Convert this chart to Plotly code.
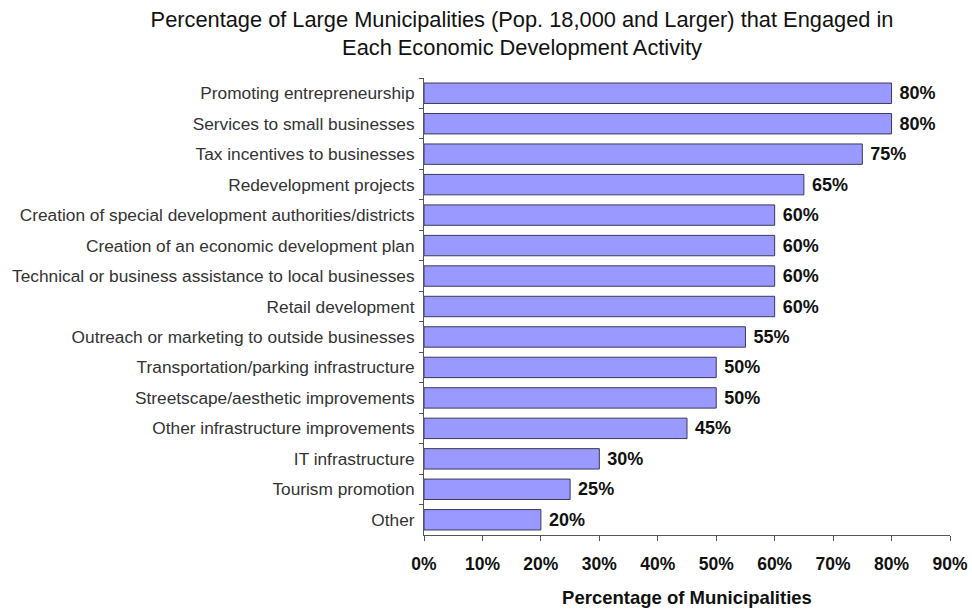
import plotly.graph_objects as go

activities = [
    "Promoting entrepreneurship",
    "Services to small businesses",
    "Tax incentives to businesses",
    "Redevelopment projects",
    "Creation of special development authorities/districts",
    "Creation of an economic development plan",
    "Technical or business assistance to local businesses",
    "Retail development",
    "Outreach or marketing to outside businesses",
    "Transportation/parking infrastructure",
    "Streetscape/aesthetic improvements",
    "Other infrastructure improvements",
    "IT infrastructure",
    "Tourism promotion",
    "Other",
]
percentages = [80, 80, 75, 65, 60, 60, 60, 60, 55, 50, 50, 45, 30, 25, 20]
x_tick_values = [0, 10, 20, 30, 40, 50, 60, 70, 80, 90]
x_tick_labels = [f"{v}%" for v in x_tick_values]

FONT = "Liberation Sans, Arial, sans-serif"

fig = go.Figure(
    go.Bar(
        x=percentages,
        y=activities,
        orientation="h",
        marker=dict(color="#9999FF", line=dict(color="#3a3a5a", width=1)),
        text=[f"\u00a0{p}%" for p in percentages],
        textposition="outside",
        textfont=dict(family=FONT, size=18, color="#111111", weight="bold"),
        cliponaxis=False,
    )
)

fig.update_layout(
    width=972,
    height=611,
    margin=dict(l=424, r=22, t=78, b=76, autoexpand=False),
    paper_bgcolor="white",
    plot_bgcolor="white",
    bargap=0.33,
    showlegend=False,
    title=dict(
        text="Percentage of Large Municipalities (Pop. 18,000 and Larger) that Engaged in<br>Each Economic Development Activity",
        x=522 / 972,
        xanchor="center",
        xref="container",
        y=1 - 27 / 611,
        yanchor="middle",
        yref="container",
        font=dict(family=FONT, size=21.8, color="#111111"),
    ),
)

fig.update_xaxes(
    range=[0, 90],
    tickvals=x_tick_values,
    ticktext=x_tick_labels,
    automargin=False,
    showgrid=False,
    zeroline=False,
    showline=True,
    linecolor="#555555",
    linewidth=1,
    ticks="outside",
    ticklen=5,
    tickcolor="#555555",
    ticklabelstandoff=8,
    tickfont=dict(family=FONT, size=17.5, color="#111111", weight="bold"),
    title=dict(
        text="Percentage of Municipalities",
        font=dict(family=FONT, size=18.5, color="#111111", weight="bold"),
        standoff=18,
    ),
)

fig.update_yaxes(
    autorange="reversed",
    automargin=False,
    showgrid=False,
    showline=True,
    linecolor="#555555",
    linewidth=1,
    ticks="outside",
    ticklen=4,
    tickcolor="#555555",
    tickson="boundaries",
    ticklabelstandoff=5,
    tickfont=dict(family=FONT, size=17.3, color="#333333"),
)

fig.write_html("out.html")
